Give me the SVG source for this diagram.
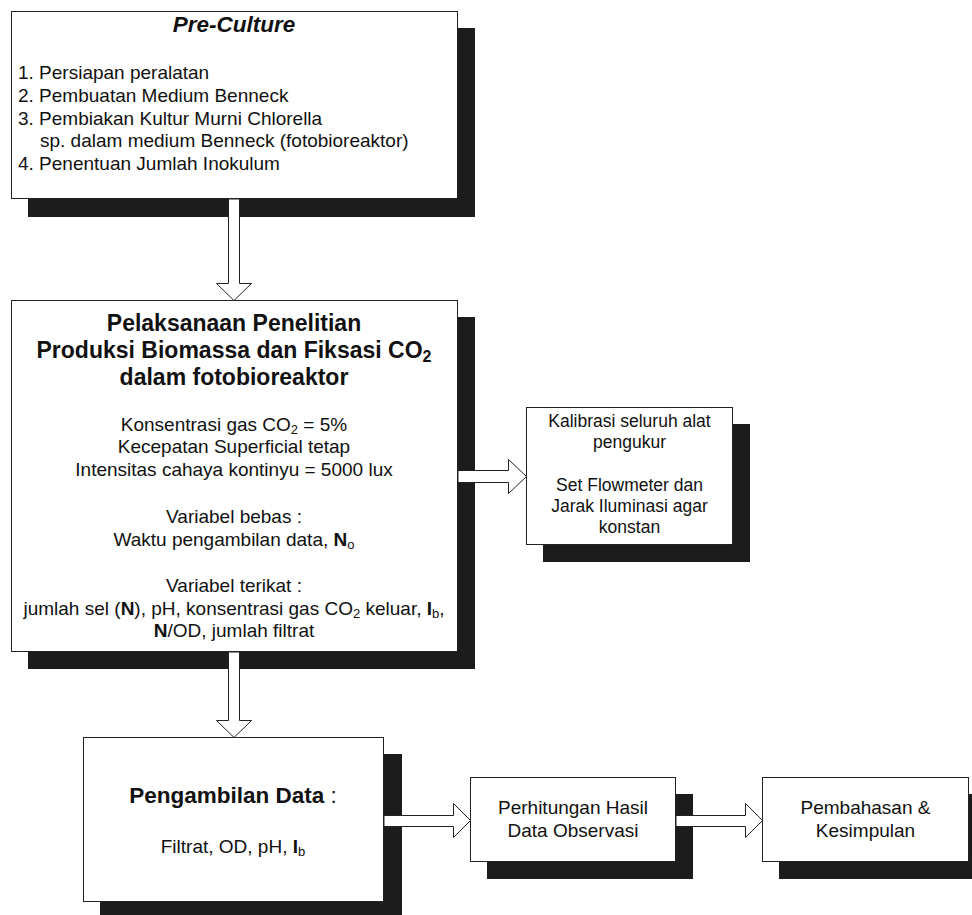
<svg xmlns="http://www.w3.org/2000/svg" width="972" height="915" viewBox="0 0 972 915">
<defs>
<style>
.bg{fill:#ffffff}
.shadow{fill:#1c1c1c}
.box{fill:#ffffff;stroke:#222;stroke-width:1}
.arrow{fill:#ffffff;stroke:#222;stroke-width:1;stroke-linejoin:miter}
text{font-family:"Liberation Sans",Arial,sans-serif;fill:#111}
.t19{font-size:19px}
.t17{font-size:17.5px}
.c{text-anchor:middle}
.b{font-weight:bold}
.title{font-size:23px;font-weight:bold}
</style>
</defs>
<rect class="bg" x="0" y="0" width="972" height="915"/>

<g id="node-preculture">
<rect class="shadow" x="28" y="28" width="447" height="189"/>
<rect class="box" x="11.5" y="11.5" width="446" height="187"/>
<text class="c b" x="234" y="32" font-size="22.5" font-style="italic">Pre-Culture</text>
<text class="t19" x="18" y="79">1. Persiapan peralatan</text>
<text class="t19" x="18" y="102">2. Pembuatan Medium Benneck</text>
<text class="t19" x="18" y="125">3. Pembiakan Kultur Murni Chlorella</text>
<text class="t19" x="40" y="147">sp. dalam medium Benneck (fotobioreaktor)</text>
<text class="t19" x="18" y="170">4. Penentuan Jumlah Inokulum</text>
</g>

<g id="node-pelaksanaan">
<rect class="shadow" x="28" y="317" width="447" height="352"/>
<rect class="box" x="11.5" y="300.5" width="446" height="351"/>
<text class="c title" x="234" y="331">Pelaksanaan Penelitian</text>
<text class="c title" x="234" y="358">Produksi Biomassa dan Fiksasi CO<tspan font-size="16" dy="4">2</tspan></text>
<text class="c title" x="234" y="385">dalam fotobioreaktor</text>
<text class="c t19" x="234" y="431">Konsentrasi gas CO<tspan font-size="13" dy="3">2</tspan><tspan dy="-3"> = 5%</tspan></text>
<text class="c t19" x="234" y="453">Kecepatan Superficial tetap</text>
<text class="c t19" x="234" y="476">Intensitas cahaya kontinyu = 5000 lux</text>
<text class="c t19" x="234" y="523">Variabel bebas :</text>
<text class="c t19" x="234" y="546">Waktu pengambilan data, <tspan class="b">N</tspan><tspan font-size="13" dy="3">o</tspan></text>
<text class="c t19" x="234" y="592">Variabel terikat :</text>
<text class="c t19" x="234" y="615">jumlah sel (<tspan class="b">N</tspan>), pH, konsentrasi gas CO<tspan font-size="13" dy="3">2</tspan><tspan dy="-3"> keluar, </tspan><tspan class="b">I</tspan><tspan font-size="13" dy="3">b</tspan><tspan dy="-3">,</tspan></text>
<text class="c t19" x="234" y="637"><tspan class="b">N</tspan>/OD, jumlah filtrat</text>
</g>

<g id="node-kalibrasi">
<rect class="shadow" x="543" y="424" width="207" height="138"/>
<rect class="box" x="526.5" y="407.5" width="206" height="137"/>
<text class="c t17" x="629.5" y="427">Kalibrasi seluruh alat</text>
<text class="c t17" x="629.5" y="448">pengukur</text>
<text class="c t17" x="629.5" y="491">Set Flowmeter dan</text>
<text class="c t17" x="629.5" y="512">Jarak Iluminasi agar</text>
<text class="c t17" x="629.5" y="533">konstan</text>
</g>

<g id="node-pengambilan">
<rect class="shadow" x="100" y="754" width="302" height="170"/>
<rect class="box" x="83.5" y="737.5" width="300" height="164"/>
<text class="c" x="233" y="803" font-size="22.5"><tspan class="b">Pengambilan Data</tspan> :</text>
<text class="c t19" x="233" y="853">Filtrat, OD, pH, <tspan class="b">I</tspan><tspan font-size="13" dy="3">b</tspan></text>
</g>

<g id="node-perhitungan">
<rect class="shadow" x="487" y="794" width="206" height="85"/>
<rect class="box" x="470.5" y="777.5" width="205" height="84"/>
<text class="c t19" x="573" y="814">Perhitungan Hasil</text>
<text class="c t19" x="573" y="837">Data Observasi</text>
</g>

<g id="node-pembahasan">
<rect class="shadow" x="779" y="794" width="207" height="85"/>
<rect class="box" x="762.5" y="777.5" width="206" height="84"/>
<text class="c t19" x="865.5" y="814">Pembahasan &amp;</text>
<text class="c t19" x="865.5" y="837">Kesimpulan</text>
</g>

<g id="connectors">
<polygon class="arrow" points="228.5,199 239.5,199 239.5,283.5 251.5,283.5 234,300.5 216.5,283.5 228.5,283.5"/>
<polygon class="arrow" points="228.5,652 239.5,652 239.5,720.5 251.5,720.5 234,737.5 216.5,720.5 228.5,720.5"/>
<polygon class="arrow" points="458,470.5 508.5,470.5 508.5,459.5 526.5,476.5 508.5,493.5 508.5,482.5 458,482.5"/>
<polygon class="arrow" points="384,815.5 453.5,815.5 453.5,803.5 470.5,820.5 453.5,837.5 453.5,826.5 384,826.5"/>
<polygon class="arrow" points="676,815.5 745.5,815.5 745.5,803.5 762.5,820.5 745.5,837.5 745.5,826.5 676,826.5"/>
</g>
</svg>
